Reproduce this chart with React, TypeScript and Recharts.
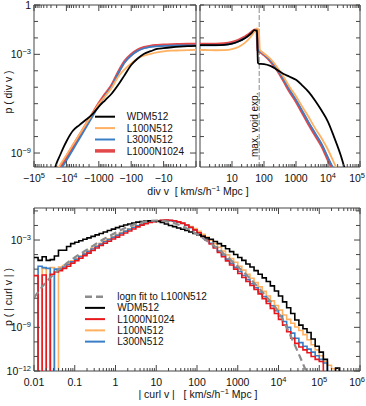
import React from "react";
import { LineChart, Line, XAxis, YAxis, ReferenceLine, ReferenceArea, Legend } from "recharts";

const FONT = '"Liberation Sans", Arial, Helvetica, sans-serif';
const FRAME = "#454545";
const INK = "#111";
const PAGE_W = 366;

const C_WDM = "#000000";
const C_L100 = "#FFB061";
const C_L300 = "#3A7EC6";
const C_L1000_TOP = "#E2484A";
const C_L1000 = "#E8171C";
const C_FIT = "#8C8C8C";

// top left panel: div v < 0, x = log10|div v|, y = log10 p
const divNegLog = [4.4, 4.3, 4.2, 4.1, 4.0, 3.8, 3.6, 3.4, 3.2, 3.0, 2.8, 2.6, 2.4, 2.2, 2.0, 1.8, 1.6, 1.4, 1.2, 1.0, 0.75, 0.5, 0.25, 0];
const negWDM512 = [-10.2, -9.6, -9.15, -8.7, -8.3, -7.65, -7.3, -6.98, -6.65, -6.18, -5.78, -5.38, -4.85, -4.25, -3.65, -3.25, -2.96, -2.81, -2.67, -2.62, -2.57, -2.53, -2.5, -2.48];
const negL100N512 = [-10.4, -10.06, -9.75, -9.44, -9.13, -8.5, -7.88, -7.25, -6.63, -6.02, -5.55, -5.03, -4.36, -3.91, -3.55, -3.25, -3.08, -2.97, -2.88, -2.82, -2.78, -2.76, -2.74, -2.73];
const negL300N512 = [-10.8, -10.45, -10.1, -9.77, -9.45, -8.8, -8.13, -7.47, -6.8, -6.12, -5.5, -4.93, -4.15, -3.48, -3.07, -2.79, -2.63, -2.55, -2.51, -2.48, -2.47, -2.46, -2.45, -2.45];
const negL1000N1024 = [-10.6, -10.25, -9.9, -9.57, -9.25, -8.6, -7.95, -7.3, -6.65, -6.0, -5.42, -4.88, -4.1, -3.43, -3.02, -2.74, -2.58, -2.5, -2.46, -2.43, -2.41, -2.4, -2.39, -2.38];

// top right panel: div v > 0
const divPosLog = [0, 0.25, 0.5, 0.75, 1.0, 1.2, 1.4, 1.5, 1.6, 1.7, 1.78, 1.81, 1.84, 1.87, 1.9, 2.0, 2.2, 2.4, 2.6, 2.8, 3.0, 3.2, 3.4, 3.6, 3.8, 4.0, 4.2, 4.4, 4.6];
const posWDM512 = [-2.44, -2.44, -2.44, -2.42, -2.35, -2.22, -2.02, -1.88, -1.72, -1.53, -1.56, -3.5, -3.57, -3.58, -3.58, -3.59, -3.7, -3.93, -4.18, -4.36, -4.55, -4.9, -5.3, -5.82, -6.42, -7.1, -8.08, -9.15, -10.5];
const posL100N512 = [-2.73, -2.74, -2.75, -2.74, -2.68, -2.55, -2.3, -2.12, -1.9, -1.62, -1.42, -1.45, -1.55, -2.72, -2.8, -2.95, -3.28, -3.75, -4.33, -4.98, -5.55, -6.2, -6.83, -7.5, -8.1, -8.8, -9.65, -10.5, -11.3];
const posL300N512 = [-2.45, -2.45, -2.45, -2.43, -2.35, -2.22, -2.02, -1.9, -1.75, -1.6, -1.56, -2.72, -2.78, -2.82, -2.85, -3.0, -3.37, -3.86, -4.48, -5.17, -5.77, -6.46, -7.15, -7.8, -8.45, -9.28, -10.08, -10.9, -11.7];
const posL1000N1024 = [-2.38, -2.38, -2.38, -2.36, -2.28, -2.15, -1.95, -1.83, -1.68, -1.53, -1.5, -2.75, -2.8, -2.84, -2.87, -3.02, -3.4, -3.9, -4.55, -5.25, -5.85, -6.55, -7.25, -7.9, -8.55, -9.4, -10.2, -11.0, -11.8];

// bottom panel: |curl v| histograms, lower bin edges in log10, -13 = empty bin
const curlBinLog = [
  -2.0, -1.9, -1.8, -1.7, -1.6, -1.5, -1.4, -1.3, -1.2, -1.1,
  -1.0, -0.9, -0.8, -0.7, -0.6, -0.5, -0.4, -0.3, -0.2, -0.1,
  0.0, 0.1, 0.2, 0.3, 0.4, 0.5, 0.6, 0.7, 0.8, 0.9,
  1.0, 1.1, 1.2, 1.3, 1.4, 1.5, 1.6, 1.7, 1.8, 1.9,
  2.0, 2.1, 2.2, 2.3, 2.4, 2.5, 2.6, 2.7, 2.8, 2.9,
  3.0, 3.1, 3.2, 3.3, 3.4, 3.5, 3.6, 3.7, 3.8, 3.9,
  4.0, 4.1, 4.2, 4.3, 4.4, 4.5, 4.6, 4.7, 4.8, 4.9,
  5.0, 5.1, 5.2, 5.3, 5.4, 5.5, 5.6,
];
const curlWDM512 = [
  -4.2, -4.4, -4.15, -4.4, -4.35, -4.1, -3.7, -3.7, -3.45, -3.25,
  -3.15, -3.05, -2.95, -2.85, -2.75, -2.65, -2.55, -2.45, -2.35, -2.25,
  -2.15, -2.05, -1.97, -1.9, -1.83, -1.77, -1.73, -1.7, -1.68, -1.68,
  -1.72, -1.8, -1.9, -2.0, -2.08, -2.17, -2.26, -2.35, -2.45, -2.55,
  -2.65, -2.75, -2.85, -2.95, -3.1, -3.25, -3.4, -3.6, -3.8, -4.0,
  -4.2, -4.4, -4.65, -4.85, -5.1, -5.35, -5.6, -5.85, -6.15, -6.5,
  -6.85, -7.25, -7.65, -8.05, -8.5, -8.85, -9.1, -9.35, -9.8, -10.3,
  -10.7, -11.2, -13, -13, -11.8, -13, -13,
];
const curlL1000N1024 = [
  -5.45, -13, -5.4, -13, -5.35, -5.2, -5.1, -4.95, -4.8, -4.6,
  -4.42, -4.25, -4.07, -3.9, -3.72, -3.55, -3.38, -3.22, -3.08, -2.93,
  -2.8, -2.66, -2.52, -2.38, -2.24, -2.1, -1.98, -1.88, -1.8, -1.74,
  -1.69, -1.65, -1.63, -1.64, -1.68, -1.75, -1.84, -1.97, -2.12, -2.3,
  -2.5, -2.75, -3.0, -3.27, -3.55, -3.85, -4.15, -4.43, -4.72, -5.0,
  -5.3, -5.58, -5.85, -6.12, -6.4, -6.7, -7.03, -7.36, -7.7, -8.05,
  -8.45, -8.85, -9.3, -9.75, -10.1, -10.35, -10.55, -10.75, -11.0, -11.2,
  -11.35, -13, -13, -13, -13, -13, -13,
];
const curlL100N512 = [
  -13, -13, -4.95, -13, -4.9, -13, -4.85, -4.75, -4.6, -4.42,
  -4.25, -4.08, -3.9, -3.73, -3.56, -3.39, -3.22, -3.06, -2.91, -2.77,
  -2.63, -2.49, -2.36, -2.23, -2.11, -2.0, -1.9, -1.82, -1.76, -1.71,
  -1.68, -1.66, -1.66, -1.68, -1.72, -1.78, -1.86, -1.96, -2.08, -2.22,
  -2.4, -2.6, -2.8, -3.02, -3.25, -3.5, -3.76, -4.02, -4.28, -4.53,
  -4.8, -5.07, -5.35, -5.63, -5.92, -6.22, -6.53, -6.85, -7.18, -7.5,
  -7.82, -8.15, -8.45, -8.72, -8.98, -9.22, -9.5, -9.85, -10.2, -10.55,
  -10.95, -11.35, -11.6, -11.85, -13, -13, -13,
];
const curlL300N512 = [
  -13, -4.8, -4.9, -4.95, -13, -5.0, -5.0, -4.85, -4.68, -4.5,
  -4.32, -4.15, -3.97, -3.8, -3.62, -3.45, -3.28, -3.12, -2.97, -2.82,
  -2.68, -2.54, -2.4, -2.27, -2.14, -2.02, -1.92, -1.84, -1.77, -1.72,
  -1.68, -1.66, -1.65, -1.67, -1.71, -1.78, -1.87, -2.0, -2.15, -2.32,
  -2.52, -2.74, -2.97, -3.22, -3.48, -3.75, -4.03, -4.31, -4.6, -4.88,
  -5.16, -5.44, -5.72, -6.0, -6.28, -6.57, -6.88, -7.2, -7.52, -7.86,
  -8.22, -8.6, -9.0, -9.4, -9.75, -10.05, -10.3, -10.5, -10.7, -10.95,
  -11.2, -11.45, -13, -13, -13, -13, -13,
];

// lognormal fit to L100N512
const fitLog = [-2.0, -1.75, -1.5, -1.25, -1.0, -0.75, -0.5, -0.25, 0.0, 0.25, 0.5, 0.75, 1.0, 1.25, 1.5, 1.75, 2.0, 2.25, 2.5, 2.75, 3.0, 3.25, 3.5, 3.75, 4.0, 4.25, 4.5, 4.75];
const fitL100N512 = [-6.95, -6.05, -5.3, -4.72, -4.2, -3.75, -3.3, -2.88, -2.5, -2.15, -1.9, -1.73, -1.66, -1.72, -1.9, -2.2, -2.6, -3.07, -3.58, -4.18, -4.83, -5.5, -6.25, -7.05, -7.95, -9.3, -10.85, -12.5];

type TickLabel = { at: number; base: string; sup?: string };

const divNegTickLabels: TickLabel[] = [
  { at: -5, base: "−10", sup: "5" },
  { at: -4, base: "−10", sup: "4" },
  { at: -3, base: "−1000" },
  { at: -2, base: "−100" },
  { at: -1, base: "−10" },
];
const divPosTickLabels: TickLabel[] = [
  { at: 1, base: "10" },
  { at: 2, base: "100" },
  { at: 3, base: "1000" },
  { at: 4, base: "10", sup: "4" },
  { at: 5, base: "10", sup: "5" },
];
const curlTickLabels: TickLabel[] = [
  { at: -2, base: "0.01" },
  { at: -1, base: "0.1" },
  { at: 0, base: "1" },
  { at: 1, base: "10" },
  { at: 2, base: "100" },
  { at: 3, base: "1000" },
  { at: 4, base: "10", sup: "4" },
  { at: 5, base: "10", sup: "5" },
  { at: 6, base: "10", sup: "6" },
];
const pDivTickLabels: TickLabel[] = [
  { at: 0, base: "1" },
  { at: -3, base: "10", sup: "−3" },
  { at: -9, base: "10", sup: "−9" },
];
const pCurlTickLabels: TickLabel[] = [
  { at: -3, base: "10", sup: "−3" },
  { at: -9, base: "10", sup: "−9" },
  { at: -12, base: "10", sup: "−12" },
];

const topLegend = [
  { name: "WDM512", color: C_WDM, width: 2 },
  { name: "L100N512", color: C_L100, width: 2 },
  { name: "L300N512", color: C_L300, width: 2 },
  { name: "L1000N1024", color: C_L1000_TOP, width: 3.5 },
];
const bottomLegend = [
  { name: "logn fit to L100N512", color: C_FIT, width: 2.5, dash: "7 4" },
  { name: "WDM512", color: C_WDM, width: 2 },
  { name: "L1000N1024", color: C_L1000, width: 2 },
  { name: "L100N512", color: C_L100, width: 2 },
  { name: "L300N512", color: C_L300, width: 2 },
];

// log-axis tick positions (decades + 2..9 minors)
function logTicks(lo: number, hi: number, sign = 1) {
  const out: number[] = [];
  for (let d = lo; d < hi; d++) {
    out.push(sign * d);
    for (let m = 2; m < 10; m++) out.push(sign * (d + Math.log10(m)));
  }
  out.push(sign * hi);
  return out;
}

const rows = (xs: number[], ys: number[], sx = 1) => xs.map((x, i) => ({ x: sx * x, y: ys[i] }));

const isMajor = (v: number) => Math.abs(v - Math.round(v)) < 1e-6;
const findLabel = (labels: TickLabel[] | undefined, v: number) =>
  labels ? labels.find((l) => Math.abs(l.at - v) < 1e-6) : undefined;

function XTick(props: any) {
  const { x, y, payload, span, labels } = props;
  const v = payload.value;
  const len = isMajor(v) ? 6 : 3;
  const lab = findLabel(labels, v);
  let tx = x;
  let anchor = "middle";
  if (lab) {
    // keep labels at the page's right edge inside the window
    const w = lab.base.length * 5.85 + (lab.sup ? lab.sup.length * 4.2 : 0);
    if (x + w / 2 > PAGE_W - 1) {
      tx = PAGE_W - 1;
      anchor = "end";
    }
  }
  return (
    <g>
      <line x1={x} x2={x} y1={y} y2={y - len} stroke={FRAME} strokeWidth={1} />
      <line x1={x} x2={x} y1={y - span} y2={y - span + len} stroke={FRAME} strokeWidth={1} />
      {lab && (
        <text x={tx} y={y + 15} textAnchor={anchor} fontSize={10.5} fontFamily={FONT} fill={INK}>
          {lab.base}
          {lab.sup && (
            <tspan dy={-4.5} fontSize={7.5}>
              {lab.sup}
            </tspan>
          )}
        </text>
      )}
    </g>
  );
}

function YTick(props: any) {
  const { x, y, payload, span, labels } = props;
  const v = payload.value;
  const lab = findLabel(labels, v);
  const len = lab ? 6 : 4;
  return (
    <g>
      <line x1={x} x2={x + len} y1={y} y2={y} stroke={FRAME} strokeWidth={1} />
      <line x1={x + span} x2={x + span - len} y1={y} y2={y} stroke={FRAME} strokeWidth={1} />
      {lab && (
        <text x={x - 3} y={y + 4} textAnchor="end" fontSize={10.5} fontFamily={FONT} fill={INK}>
          {lab.base}
          {lab.sup && (
            <tspan dy={-4.5} fontSize={7.5}>
              {lab.sup}
            </tspan>
          )}
        </text>
      )}
    </g>
  );
}

function HTitle({ tx, ty, before, after }: any) {
  return (
    <text x={tx} y={ty} textAnchor="middle" fontSize={10.5} fontFamily={FONT} fill={INK} style={{ whiteSpace: "pre" }}>
      {before}
      <tspan dy={-4}>
        <tspan fontSize={7.5}>−1</tspan>
      </tspan>
      <tspan dy={4}>{after}</tspan>
    </text>
  );
}

function VTitle({ tx, ty, text }: any) {
  return (
    <text
      x={tx}
      y={ty}
      transform={`rotate(-90 ${tx} ${ty})`}
      textAnchor="middle"
      fontSize={10.5}
      fontFamily={FONT}
      fill={INK}
      style={{ whiteSpace: "pre" }}
    >
      {text}
    </text>
  );
}

function VoidLabel(props: any) {
  const vb = props.viewBox || {};
  const x = vb.x - 1.5;
  const y = vb.y + vb.height - 10;
  return (
    <text x={x} y={y} transform={`rotate(-90 ${x} ${y})`} fontSize={10} fontFamily={FONT} fill={INK}>
      max. void exp.
    </text>
  );
}

function LegendBox({ items, rowH, lineW, gap }: any) {
  return (
    <svg width={140} height={items.length * rowH + 4} style={{ display: "block" }}>
      {items.map((it: any, i: number) => {
        const cy = rowH / 2 + i * rowH + 2;
        return (
          <g key={it.name}>
            <line x1={0} x2={lineW} y1={cy} y2={cy} stroke={it.color} strokeWidth={it.width} strokeDasharray={it.dash} />
            <text x={lineW + gap} y={cy + 3.6} fontSize={10} fontFamily={FONT} fill={INK}>
              {it.name}
            </text>
          </g>
        );
      })}
    </svg>
  );
}

const TOP_H = 162;
const LEFT_W = 162;
const RIGHT_W = 160;
const BOT_W = 326;
const BOT_H = 163;
const P_DIV: [number, number] = [-9.85, 0];
const P_CURL: [number, number] = [-12, -0.8];
const pDivTicks = [0, -1, -2, -3, -4, -5, -6, -7, -8, -9];
const pCurlTicks = [-1, -2, -3, -4, -5, -6, -7, -8, -9, -10, -11, -12];

export default function App() {
  return (
    <div style={{ position: "relative", width: 366, height: 406, background: "#fff" }}>
      <style>{"body{margin:0}"}</style>

      {/* top left: div v < 0 */}
      <div style={{ position: "absolute", left: 0, top: 0 }}>
        <LineChart width={366} height={200} margin={{ top: 5, right: 170, bottom: 3, left: 0 }}>
          <XAxis
            dataKey="x"
            type="number"
            domain={[-5, 0]}
            allowDataOverflow
            ticks={logTicks(0, 5, -1)}
            interval={0}
            tickLine={false}
            axisLine={false}
            tickSize={0}
            tickMargin={0}
            height={30}
            tick={(p: any) => <XTick {...p} span={TOP_H} labels={divNegTickLabels} />}
            label={<HTitle tx={198} ty={195} before={"div v  [ km/s/h"} after={" Mpc ]"} />}
          />
          <YAxis
            type="number"
            domain={P_DIV}
            allowDataOverflow
            ticks={pDivTicks}
            interval={0}
            tickLine={false}
            axisLine={false}
            tickSize={0}
            tickMargin={0}
            width={34}
            tick={(p: any) => <YTick {...p} span={LEFT_W} labels={pDivTickLabels} />}
            label={<VTitle tx={12} ty={92} text="p ( div v )" />}
          />
          <Line data={rows(divNegLog, negL1000N1024, -1)} dataKey="y" type="monotone" stroke={C_L1000_TOP} strokeWidth={3} dot={false} isAnimationActive={false} />
          <Line data={rows(divNegLog, negL300N512, -1)} dataKey="y" type="monotone" stroke={C_L300} strokeWidth={1.8} dot={false} isAnimationActive={false} />
          <Line data={rows(divNegLog, negL100N512, -1)} dataKey="y" type="monotone" stroke={C_L100} strokeWidth={1.8} dot={false} isAnimationActive={false} />
          <Line data={rows(divNegLog, negWDM512, -1)} dataKey="y" type="monotone" stroke={C_WDM} strokeWidth={1.8} dot={false} isAnimationActive={false} />
          <ReferenceArea x1={-5} x2={0} y1={P_DIV[0]} y2={P_DIV[1]} fill="none" stroke={FRAME} strokeWidth={1} ifOverflow="visible" />
          <Legend
            layout="vertical"
            align="center"
            verticalAlign="middle"
            wrapperStyle={{ left: 95, top: 108.8, width: 140 }}
            content={() => <LegendBox items={topLegend} rowH={11.4} lineW={20} gap={11.7} />}
          />
        </LineChart>
      </div>

      {/* top right: div v > 0 */}
      <div style={{ position: "absolute", left: 0, top: 0 }}>
        <LineChart width={366} height={200} margin={{ top: 5, right: 6, bottom: 3, left: 198 }}>
          <XAxis
            dataKey="x"
            type="number"
            domain={[0, 5]}
            allowDataOverflow
            ticks={logTicks(0, 5)}
            interval={0}
            tickLine={false}
            axisLine={false}
            tickSize={0}
            tickMargin={0}
            height={30}
            tick={(p: any) => <XTick {...p} span={TOP_H} labels={divPosTickLabels} />}
          />
          <YAxis
            type="number"
            domain={P_DIV}
            allowDataOverflow
            ticks={pDivTicks}
            interval={0}
            tickLine={false}
            axisLine={false}
            tickSize={0}
            tickMargin={0}
            width={2}
            tick={(p: any) => <YTick {...p} span={RIGHT_W} />}
          />
          <ReferenceLine x={1.85} stroke="#8a8a8a" strokeWidth={1} strokeDasharray="5 2" label={<VoidLabel />} />
          <Line data={rows(divPosLog, posL1000N1024)} dataKey="y" type="monotone" stroke={C_L1000_TOP} strokeWidth={3} dot={false} isAnimationActive={false} />
          <Line data={rows(divPosLog, posL300N512)} dataKey="y" type="monotone" stroke={C_L300} strokeWidth={1.8} dot={false} isAnimationActive={false} />
          <Line data={rows(divPosLog, posL100N512)} dataKey="y" type="monotone" stroke={C_L100} strokeWidth={1.8} dot={false} isAnimationActive={false} />
          <Line data={rows(divPosLog, posWDM512)} dataKey="y" type="monotone" stroke={C_WDM} strokeWidth={1.8} dot={false} isAnimationActive={false} />
          <ReferenceArea x1={0} x2={5} y1={P_DIV[0]} y2={P_DIV[1]} fill="none" stroke={FRAME} strokeWidth={1} ifOverflow="visible" />
        </LineChart>
      </div>

      {/* bottom: |curl v| */}
      <div style={{ position: "absolute", left: 0, top: 200 }}>
        <LineChart width={366} height={206} margin={{ top: 8, right: 6, bottom: 5, left: 0 }}>
          <XAxis
            dataKey="x"
            type="number"
            domain={[-2, 6]}
            allowDataOverflow
            ticks={logTicks(-2, 6)}
            interval={0}
            tickLine={false}
            axisLine={false}
            tickSize={0}
            tickMargin={0}
            height={30}
            tick={(p: any) => <XTick {...p} span={BOT_H} labels={curlTickLabels} />}
            label={<HTitle tx={198} ty={198} before={"| curl v |   [ km/s/h"} after={" Mpc ]"} />}
          />
          <YAxis
            type="number"
            domain={P_CURL}
            allowDataOverflow
            ticks={pCurlTicks}
            interval={0}
            tickLine={false}
            axisLine={false}
            tickSize={0}
            tickMargin={0}
            width={34}
            tick={(p: any) => <YTick {...p} span={BOT_W} labels={pCurlTickLabels} />}
            label={<VTitle tx={12} ty={97} text="p ( | curl v | )" />}
          />
          <Line data={rows(curlBinLog, curlL100N512)} dataKey="y" type="stepAfter" stroke={C_L100} strokeWidth={1.6} dot={false} isAnimationActive={false} />
          <Line data={rows(curlBinLog, curlL300N512)} dataKey="y" type="stepAfter" stroke={C_L300} strokeWidth={1.6} dot={false} isAnimationActive={false} />
          <Line data={rows(curlBinLog, curlL1000N1024)} dataKey="y" type="stepAfter" stroke={C_L1000} strokeWidth={1.6} dot={false} isAnimationActive={false} />
          <Line data={rows(curlBinLog, curlWDM512)} dataKey="y" type="stepAfter" stroke={C_WDM} strokeWidth={1.6} dot={false} isAnimationActive={false} />
          <Line data={rows(fitLog, fitL100N512)} dataKey="y" type="monotone" stroke={C_FIT} strokeWidth={2.2} strokeDasharray="7 4" dot={false} isAnimationActive={false} />
          <ReferenceArea x1={-2} x2={6} y1={P_CURL[0]} y2={P_CURL[1]} fill="none" stroke={FRAME} strokeWidth={1} ifOverflow="visible" />
          <Legend
            layout="vertical"
            align="center"
            verticalAlign="middle"
            wrapperStyle={{ left: 85, top: 88.9, width: 140 }}
            content={() => <LegendBox items={bottomLegend} rowH={11.25} lineW={20} gap={12.3} />}
          />
        </LineChart>
      </div>
    </div>
  );
}
